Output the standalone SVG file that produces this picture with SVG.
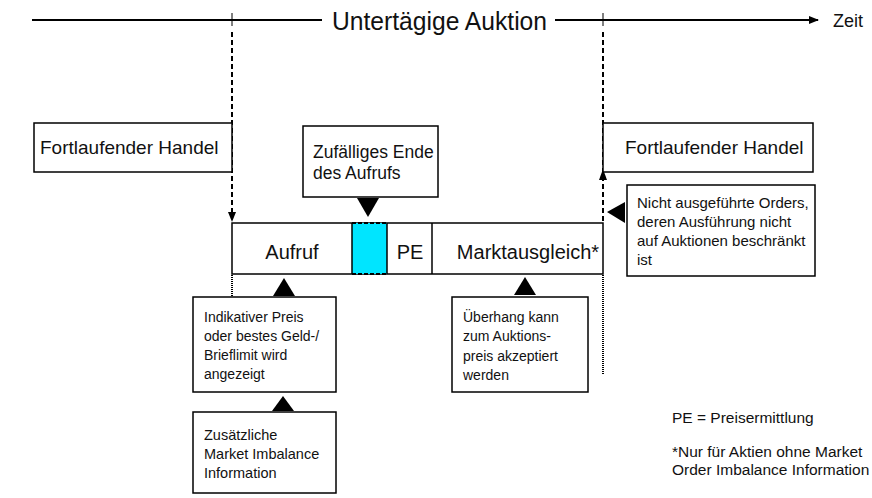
<svg xmlns="http://www.w3.org/2000/svg" width="872" height="498" viewBox="0 0 872 498">
<style>
.box{fill:#fff;stroke:#000;stroke-width:1.5}
.t{font-family:"Liberation Sans",Arial,sans-serif;fill:#111}
.m{font-size:19px}
.b{font-size:20px}
.s{font-size:14px}
.dash{stroke:#000;stroke-width:2;stroke-dasharray:5 3;fill:none}
.dot{stroke:#000;stroke-width:2;stroke-dasharray:1 1;fill:none}
.tri{fill:#000}
</style>
<defs>
<marker id="ah" markerWidth="10" markerHeight="10" refX="9" refY="5" orient="auto" markerUnits="userSpaceOnUse">
<path d="M0,1 L10,5 L0,9 Z" fill="#000"/>
</marker>
</defs>
<g id="timeline">
<line x1="32" y1="20" x2="322" y2="20" stroke="#000" stroke-width="2"/>
<line x1="555" y1="20" x2="818" y2="20" stroke="#000" stroke-width="2" marker-end="url(#ah)"/>
<line x1="232" y1="13" x2="232" y2="26" stroke="#000" stroke-width="1"/>
<line x1="603" y1="13" x2="603" y2="26" stroke="#000" stroke-width="1"/>
<text x="332" y="30" class="t" style="font-size:25px" textLength="215" lengthAdjust="spacingAndGlyphs">Untertägige Auktion</text>
<text x="833" y="27" class="t" style="font-size:18px">Zeit</text>
</g>
<g id="connectors">
<line x1="232" y1="32" x2="232" y2="214" class="dash"/>
<path d="M228,212 L236,212 L232,222 Z" class="tri"/>
<line x1="232" y1="275" x2="232" y2="296" class="dot"/>
<line x1="603" y1="32" x2="603" y2="222" class="dash"/>
<path d="M599,180 L607,180 L603,169 Z" class="tri"/>
<line x1="603" y1="275" x2="603" y2="374" class="dot"/>
</g>
<g id="fh-left">
<rect x="34" y="123" width="198" height="49" class="box"/>
<text x="40" y="154" class="t m">Fortlaufender Handel</text>
</g>
<g id="fh-right">
<rect x="603" y="123" width="210" height="49" class="box"/>
<text x="625" y="154" class="t m">Fortlaufender Handel</text>
</g>
<g id="zufall">
<rect x="303" y="126" width="135" height="71" class="box"/>
<text class="t" style="font-size:17.5px"><tspan x="313" y="158">Zufälliges Ende</tspan><tspan x="313" y="179">des Aufrufs</tspan></text>
<path d="M357,198 L379,198 L368,217 Z" class="tri"/>
</g>
<g id="bar">
<rect x="232" y="223" width="371" height="51" class="box"/>
<rect x="352" y="223" width="35" height="51" fill="#00E5FF" stroke="none"/>
<line x1="352" y1="223" x2="352" y2="274" stroke="#000" stroke-width="1.5"/>
<line x1="387" y1="223" x2="387" y2="274" stroke="#000" stroke-width="1.5"/>
<line x1="352" y1="223" x2="387" y2="223" class="dash" style="stroke-dasharray:4 2"/>
<line x1="352" y1="274" x2="387" y2="274" class="dash" style="stroke-dasharray:4 2"/>
<line x1="432" y1="223" x2="432" y2="274" stroke="#000" stroke-width="1.5"/>
<text x="292" y="259" text-anchor="middle" class="t b">Aufruf</text>
<text x="410" y="259" text-anchor="middle" class="t b">PE</text>
<text x="528" y="259" text-anchor="middle" class="t b">Marktausgleich*</text>
</g>
<g id="nicht">
<rect x="627" y="185" width="188" height="91" class="box"/>
<text class="t" style="font-size:15px"><tspan x="637" y="208">Nicht ausgeführte Orders,</tspan><tspan x="637" y="227">deren Ausführung nicht</tspan><tspan x="637" y="246">auf Auktionen beschränkt</tspan><tspan x="637" y="265">ist</tspan></text>
<path d="M607,212 L625,202 L625,223 Z" class="tri"/>
</g>
<g id="indikativ">
<rect x="193" y="297" width="143" height="95" class="box"/>
<text class="t s"><tspan x="204" y="322">Indikativer Preis</tspan><tspan x="204" y="341">oder bestes Geld-/</tspan><tspan x="204" y="360">Brieflimit wird</tspan><tspan x="204" y="379">angezeigt</tspan></text>
<path d="M273,296 L295,296 L284,278 Z" class="tri"/>
</g>
<g id="zusatz">
<rect x="193" y="412" width="143" height="81" class="box"/>
<text class="t" style="font-size:14.5px"><tspan x="204" y="440">Zusätzliche</tspan><tspan x="204" y="459">Market Imbalance</tspan><tspan x="204" y="478">Information</tspan></text>
<path d="M272,411 L294,411 L283,396 Z" class="tri"/>
</g>
<g id="ueberhang">
<rect x="452" y="297" width="136" height="95" class="box"/>
<text class="t s"><tspan x="463" y="322">Überhang kann</tspan><tspan x="463" y="341">zum Auktions-</tspan><tspan x="463" y="361">preis akzeptiert</tspan><tspan x="463" y="380">werden</tspan></text>
<path d="M514,295 L536,295 L525,277 Z" class="tri"/>
</g>
<g id="legend">
<text x="672" y="423" class="t" style="font-size:15.5px">PE = Preisermittlung</text>
<text class="t" style="font-size:15.5px"><tspan x="672" y="457">*Nur für Aktien ohne Market</tspan><tspan x="672" y="475">Order Imbalance Information</tspan></text>
</g>
</svg>
